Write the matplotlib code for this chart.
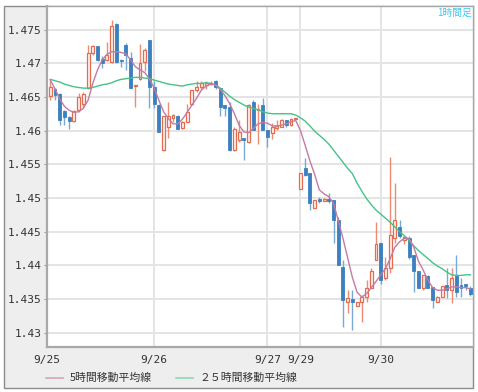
import matplotlib
matplotlib.use("Agg")
import matplotlib.pyplot as plt
from matplotlib.lines import Line2D
from matplotlib.patches import Rectangle

# hourly candles, 9/25 01:00 .. 9/30 19:00 (weekend gap removed)
opens = [1.4652, 1.4661, 1.4655, 1.4629, 1.4620, 1.4614, 1.4630, 1.4640, 1.4663, 1.4715,
         1.4725, 1.4706, 1.4705, 1.4702, 1.4758, 1.4705, 1.4727, 1.4707, 1.4666, 1.4676,
         1.4702, 1.4735, 1.4664, 1.4638, 1.4571, 1.4606, 1.4618, 1.4622, 1.4604, 1.4613,
         1.4639, 1.4660, 1.4665, 1.4667, 1.4669, 1.4673, 1.4663, 1.4638, 1.4635, 1.4571,
         1.4586, 1.4589, 1.4583, 1.4643, 1.4630, 1.4638, 1.4601, 1.4596, 1.4604, 1.4606,
         1.4615, 1.4609, 1.4617, 1.4514, 1.4544, 1.4537, 1.4485, 1.4499, 1.4496, 1.4499,
         1.4497, 1.4467, 1.4398, 1.4346, 1.4350, 1.4339, 1.4345, 1.4353, 1.4366, 1.4408,
         1.4433, 1.4381, 1.4396, 1.4440, 1.4457, 1.4438, 1.4440, 1.4415, 1.4391, 1.4366,
         1.4384, 1.4368, 1.4346, 1.4353, 1.4371, 1.4363, 1.4386, 1.4371, 1.4372, 1.4366]
highs = [1.4675, 1.4663, 1.4656, 1.4630, 1.4621, 1.4631, 1.4656, 1.4657, 1.4727, 1.4727,
         1.4725, 1.4710, 1.4732, 1.4764, 1.4760, 1.4706, 1.4730, 1.4717, 1.4668, 1.4729,
         1.4722, 1.4735, 1.4673, 1.4640, 1.4622, 1.4642, 1.4625, 1.4623, 1.4614, 1.4640,
         1.4660, 1.4673, 1.4673, 1.4673, 1.4673, 1.4675, 1.4663, 1.4638, 1.4643, 1.4606,
         1.4616, 1.4589, 1.4640, 1.4645, 1.4639, 1.4648, 1.4601, 1.4611, 1.4616, 1.4617,
         1.4616, 1.4619, 1.4619, 1.4537, 1.4559, 1.4537, 1.4497, 1.4502, 1.4500, 1.4507,
         1.4497, 1.4472, 1.4408, 1.4363, 1.4363, 1.4345, 1.4356, 1.4378, 1.4396, 1.4465,
         1.4433, 1.4413, 1.4561, 1.4522, 1.4467, 1.4443, 1.4443, 1.4415, 1.4391, 1.4386,
         1.4386, 1.4368, 1.4355, 1.4370, 1.4396, 1.4396, 1.4415, 1.4381, 1.4372, 1.4369]
lows = [1.4646, 1.4646, 1.4609, 1.4609, 1.4602, 1.4612, 1.4627, 1.4633, 1.4662, 1.4712,
        1.4703, 1.4693, 1.4704, 1.4701, 1.4700, 1.4695, 1.4690, 1.4663, 1.4635, 1.4675,
        1.4688, 1.4634, 1.4633, 1.4598, 1.4570, 1.4589, 1.4613, 1.4603, 1.4603, 1.4612,
        1.4638, 1.4658, 1.4662, 1.4662, 1.4668, 1.4662, 1.4621, 1.4621, 1.4569, 1.4569,
        1.4583, 1.4556, 1.4582, 1.4601, 1.4580, 1.4601, 1.4576, 1.4588, 1.4601, 1.4605,
        1.4606, 1.4607, 1.4617, 1.4514, 1.4533, 1.4482, 1.4485, 1.4493, 1.4495, 1.4493,
        1.4433, 1.4401, 1.4309, 1.4329, 1.4304, 1.4339, 1.4316, 1.4346, 1.4366, 1.4408,
        1.4373, 1.4378, 1.4388, 1.4433, 1.4441, 1.4432, 1.4410, 1.4361, 1.4366, 1.4364,
        1.4366, 1.4336, 1.4346, 1.4353, 1.4351, 1.4344, 1.4353, 1.4353, 1.4363, 1.4355]
closes = [1.4665, 1.4653, 1.4616, 1.4620, 1.4614, 1.4629, 1.4650, 1.4655, 1.4715, 1.4725,
          1.4705, 1.4701, 1.4712, 1.4755, 1.4702, 1.4703, 1.4712, 1.4663, 1.4668, 1.4700,
          1.4720, 1.4665, 1.4639, 1.4598, 1.4621, 1.4621, 1.4623, 1.4603, 1.4613, 1.4628,
          1.4660, 1.4665, 1.4671, 1.4671, 1.4671, 1.4665, 1.4635, 1.4633, 1.4571, 1.4603,
          1.4598, 1.4586, 1.4638, 1.4601, 1.4632, 1.4601, 1.4591, 1.4606, 1.4607, 1.4616,
          1.4608, 1.4617, 1.4618, 1.4537, 1.4534, 1.4492, 1.4497, 1.4496, 1.4499, 1.4495,
          1.4467, 1.4401, 1.4349, 1.4351, 1.4345, 1.4345, 1.4353, 1.4366, 1.4391, 1.4432,
          1.4378, 1.4396, 1.4445, 1.4467, 1.4443, 1.4442, 1.4413, 1.4391, 1.4366, 1.4386,
          1.4366, 1.4349, 1.4353, 1.4369, 1.4363, 1.4381, 1.4361, 1.4366, 1.4369, 1.4358]

# moving averages
ma5 = [1.4675, 1.4662, 1.4647, 1.4636, 1.4630, 1.4627, 1.4628, 1.4633, 1.4645, 1.4670,
       1.4690, 1.4705, 1.4713, 1.4717, 1.4717, 1.4716, 1.4714, 1.4705, 1.4695, 1.4690,
       1.4686, 1.4677, 1.4663, 1.4645, 1.4628, 1.4618, 1.4610, 1.4610, 1.4617, 1.4627,
       1.4638, 1.4648, 1.4660, 1.4666, 1.4669, 1.4668, 1.4661, 1.4652, 1.4640, 1.4625,
       1.4608, 1.4598, 1.4597, 1.4603, 1.4610, 1.4612, 1.4611, 1.4607, 1.4607, 1.4608,
       1.4610, 1.4613, 1.4615, 1.4600, 1.4578, 1.4555, 1.4535, 1.4512, 1.4506, 1.4502,
       1.4492, 1.4467, 1.4440, 1.4411, 1.4382, 1.4360, 1.4353, 1.4358, 1.4367, 1.4376,
       1.4386, 1.4395, 1.4410, 1.4427, 1.4435, 1.4440, 1.4440, 1.4427, 1.4406, 1.4393,
       1.4378, 1.4367, 1.4363, 1.4363, 1.4365, 1.4368, 1.4368, 1.4367, 1.4367, 1.4365]
ma25 = [1.4676, 1.4674, 1.4672, 1.4669, 1.4667, 1.4665, 1.4664, 1.4663, 1.4663, 1.4664,
        1.4666, 1.4668, 1.4669, 1.4671, 1.4674, 1.4676, 1.4677, 1.4678, 1.4679, 1.4679,
        1.4678, 1.4677, 1.4675, 1.4673, 1.4671, 1.4669, 1.4668, 1.4667, 1.4666, 1.4668,
        1.4669, 1.4670, 1.4670, 1.4671, 1.4670, 1.4668, 1.4663, 1.4657, 1.4651, 1.4646,
        1.4642, 1.4638, 1.4635, 1.4633, 1.4631, 1.4628, 1.4626, 1.4625, 1.4625, 1.4625,
        1.4625, 1.4625, 1.4623, 1.4619, 1.4614, 1.4607, 1.4599, 1.4593, 1.4587, 1.4580,
        1.4571, 1.4562, 1.4553, 1.4544, 1.4536, 1.4522, 1.4510, 1.4499, 1.4490, 1.4482,
        1.4476, 1.4470, 1.4464, 1.4457, 1.4450, 1.4444, 1.4437, 1.4429, 1.4422, 1.4416,
        1.4410, 1.4404, 1.4399, 1.4395, 1.4390, 1.4386, 1.4385, 1.4385, 1.4386, 1.4386]

date_ticks = [22, 46, 53, 70]
date_labels = ["9/26", "9/27", "9/29", "9/30"]
y_ticks = [1.43, 1.435, 1.44, 1.445, 1.45, 1.455, 1.46, 1.465, 1.47, 1.475]

W, H = 478, 392
UP, DOWN = "#e26c50", "#3d80c0"
UP_WICK, DOWN_WICK = "#ec8c74", "#78a9d6"


def px(x, y):
    # pixel coords -> figure fraction
    return x / W, 1 - y / H


fig = plt.figure(figsize=(W / 100, H / 100), dpi=100, facecolor="white")
# grey outer frame
fig.add_artist(Rectangle(px(4, 388), 469 / W, 382 / H, transform=fig.transFigure,
                         facecolor="#eeeeee", edgecolor="#8c8c8c", lw=1.0, zorder=0))

ax = fig.add_axes([47 / W, 1 - 347 / H, 426 / W, 341 / H])
ax.set_facecolor("white")

xs = range(len(opens))
for i in xs:
    o, h, l, c = opens[i], highs[i], lows[i], closes[i]
    up = c >= o
    ax.vlines(i, l, h, color=UP_WICK if up else DOWN_WICK, lw=1.0, zorder=2)
    body = max(abs(c - o), 0.00006)
    if up:
        ax.bar(i, body, bottom=min(o, c), width=0.62, facecolor="#fff4f1",
               edgecolor=UP, lw=0.9, zorder=3)
    else:
        ax.bar(i, body, bottom=min(o, c), width=0.62, facecolor=DOWN,
               edgecolor=DOWN, lw=0.6, zorder=3)

ax.plot(xs, ma25, color="#45c387", lw=1.0, zorder=4)
ax.plot(xs, ma5, color="#c47ba3", lw=1.0, zorder=4)

ax.set_xlim(-0.7, 89.55)
ax.set_ylim(1.42788, 1.47849)
ax.set_yticks(y_ticks)
ax.set_yticklabels([f"{v:g}" for v in y_ticks])
ax.set_xticks([-0.7] + date_ticks)
ax.set_xticklabels(["9/25"] + date_labels)

ax.grid(True, color="#e4e4e4", lw=1.4, zorder=0)
ax.set_axisbelow(True)
ax.tick_params(axis="both", length=2, width=0.8, color="#999999", pad=2,
               labelsize=8, labelcolor="#333333")
ax.tick_params(axis="x", length=0, pad=6)
for lab in ax.get_xticklabels() + ax.get_yticklabels():
    lab.set_family("DejaVu Sans Mono")
for side, sp in ax.spines.items():
    sp.set_color("#a8a8a8")
    sp.set_linewidth(1.6 if side in ("left", "bottom") else 1.0)

cjk = ["Noto Sans CJK JP", "DejaVu Sans"]
fig.text(*px(472, 12.5), "1時間足", ha="right", va="center", color="#3cc8f2",
         fontsize=7, family=cjk)

# legend row
fig.add_artist(Line2D([46 / W, 63 / W], [1 - 378 / H] * 2, color="#d9a3bd", lw=1.2))
fig.text(*px(70, 378), "5時間移動平均線", ha="left", va="center", color="#333333",
         fontsize=7.8, family=cjk)
fig.add_artist(Line2D([176 / W, 193 / W], [1 - 378 / H] * 2, color="#8fd8b4", lw=1.2))
fig.text(*px(200, 378), "２５時間移動平均線", ha="left", va="center", color="#333333",
         fontsize=7.8, family=cjk)

fig.savefig("out.png", dpi=100, facecolor="white")
